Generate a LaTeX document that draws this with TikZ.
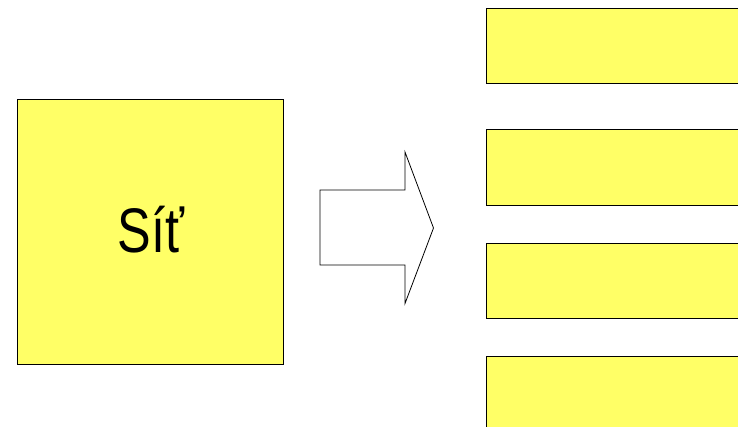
\documentclass[tikz,border=0pt]{standalone}
\usepackage{fontspec}
\setmainfont{Liberation Sans}[FakeStretch=0.8]
\usetikzlibrary{positioning}
\definecolor{zluta}{HTML}{FFFF66}
\tikzset{
  ctverec/.style={draw=black, fill=zluta, line width=0.8pt, inner sep=0pt},
  sipka/.style={draw=black, fill=white, line width=0.8pt, line join=miter}
}

\begin{document}
\begin{tikzpicture}[x=1pt, y=-1pt]
\useasboundingbox (0,0) rectangle (738,427);
\clip (0,0) rectangle (738,427);

% --- levy ctverec se slovem ---
\node[ctverec, minimum width=266pt, minimum height=265pt] (sit) at (150,231.5) {};
\node[anchor=base, font=\fontsize{63}{63}\selectfont] (nazev) at (151,253) {Síť};

% --- sipka ---
\draw[sipka] (320,190) -- (405,190) -- (405,152) -- (433.5,228) -- (405,303.5) -- (405,265) -- (320,265) -- cycle;

% --- prave obdelniky (presahuji okraj) ---
\foreach \horni/\dolni in {8/83, 129.5/205, 243/318.5, 356/440}
  \draw[ctverec] (486.5,\horni) rectangle (750,\dolni);
\end{tikzpicture}
\end{document}
